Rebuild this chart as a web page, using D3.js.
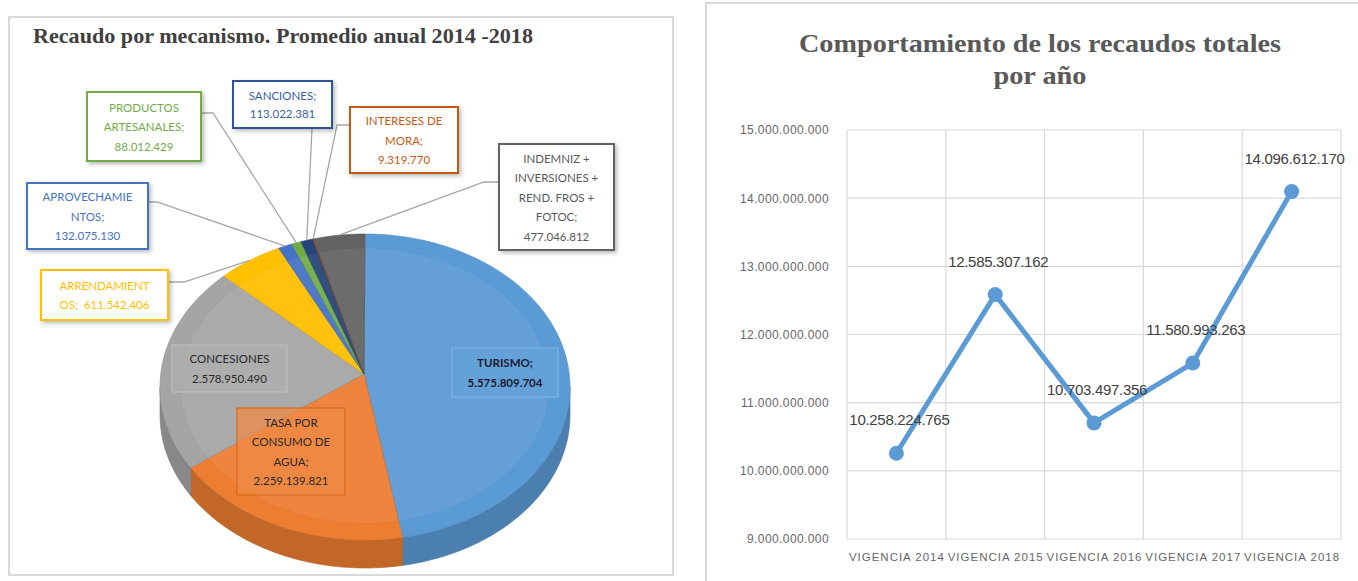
<!DOCTYPE html>
<html><head><meta charset="utf-8">
<script src="https://cdn.jsdelivr.net/npm/d3@7"></script>
<style>body{margin:0;background:#fff;} svg{display:block}</style>
</head><body>
<svg id="c" width="1358" height="581"></svg>
<script>
// ---------- DATA ----------
const mechanisms = ["TURISMO","TASA POR CONSUMO DE AGUA","CONCESIONES","ARRENDAMIENTOS","APROVECHAMIENTOS","PRODUCTOS ARTESANALES","SANCIONES","INTERESES DE MORA","INDEMNIZ + INVERSIONES + REND. FROS + FOTOC"];
const mechanismValues = [5575809704, 2259139821, 2578950490, 611542406, 132075130, 88012429, 113022381, 9319770, 477046812];
const mechanismNameLines = [["TURISMO;"],["TASA POR","CONSUMO DE","AGUA;"],["CONCESIONES"],["ARRENDAMIENT","OS;  "],["APROVECHAMIE","NTOS;"],["PRODUCTOS","ARTESANALES;"],["SANCIONES;"],["INTERESES DE","MORA;"],["INDEMNIZ +","INVERSIONES +","REND. FROS +","FOTOC;"]];
const sliceColors = ["#5B9BD5","#ED7D31","#A5A5A5","#FFC000","#4472C4","#70AD47","#264478","#9E480E","#636363"];

const years = ["VIGENCIA 2014","VIGENCIA 2015","VIGENCIA 2016","VIGENCIA 2017","VIGENCIA 2018"];
const totals = [10258224765, 12585307162, 10703497356, 11580993263, 14096612170];
const yTicks = [9e9, 10e9, 11e9, 12e9, 13e9, 14e9, 15e9];

const pieTitle = "Recaudo por mecanismo. Promedio anual 2014 -2018";
const lineTitle = ["Comportamiento de los recaudos totales", "por año"];

// ---------- SETUP ----------
const loc = d3.formatLocale({decimal: ",", thousands: ".", grouping: [3], currency: ["$", ""]});
const fmt = loc.format(",");
const svg = d3.select("#c");
const defs = svg.append("defs");
const sh = defs.append("filter").attr("id","sh").attr("x","-20%").attr("y","-20%").attr("width","150%").attr("height","150%");
sh.append("feDropShadow").attr("dx",2).attr("dy",2).attr("stdDeviation",2).attr("flood-color","#000").attr("flood-opacity",0.28);

// ---------- LEFT PANEL ----------
svg.append("rect").attr("x",9).attr("y",17).attr("width",664).attr("height",558)
  .attr("fill","#fff").attr("stroke","#d9d9d9").attr("stroke-width",2);
svg.append("text").attr("x",33).attr("y",43).text(pieTitle)
  .attr("font-family","'Liberation Serif','DejaVu Serif',serif").attr("font-weight","bold")
  .attr("font-size",21).attr("fill","#404040").attr("textLength",500).attr("lengthAdjust","spacingAndGlyphs");

const P = {cx: 365, cy: 387, rx: 205, ry: 153, ax: 364, ay: 374, depth: 28};
const rim = (t, dz = 0) => [P.cx + P.rx * Math.sin(t), P.cy - P.ry * Math.cos(t) + dz];
const arcPts = (a0, a1, dz = 0) => {
  const n = Math.max(2, Math.ceil((a1 - a0) / 0.02));
  return d3.range(n + 1).map(i => rim(a0 + (a1 - a0) * i / n, dz));
};
const arcs = d3.pie().sort(null).value(d => d)(mechanismValues);

const gPie = svg.append("g");
// sides (front half only)
arcs.forEach((a, i) => {
  const s0 = Math.max(a.startAngle, Math.PI / 2), s1 = Math.min(a.endAngle, 3 * Math.PI / 2);
  if (s1 <= s0) return;
  const top = arcPts(s0, s1), bot = arcPts(s0, s1, P.depth).reverse();
  gPie.append("path").attr("d", "M" + top.concat(bot).map(p => p.join(",")).join("L") + "Z")
    .attr("fill", d3.color(sliceColors[i]).darker(0.55)).attr("stroke", d3.color(sliceColors[i]).darker(0.8)).attr("stroke-width", 0.6);
});
// tops
arcs.forEach((a, i) => {
  const pts = [[P.ax, P.ay]].concat(arcPts(a.startAngle, a.endAngle));
  gPie.append("path").attr("d", "M" + pts.map(p => p.join(",")).join("L") + "Z")
    .attr("fill", sliceColors[i]).attr("stroke", d3.color(sliceColors[i]).darker(0.3)).attr("stroke-width", 0.6);
  // inner bevel
  const k = 0.9;
  const inner = pts.map(p => [P.ax + (p[0] - P.ax) * k, P.ay + (p[1] - P.ay) * k]);
  gPie.append("path").attr("d", "M" + inner.map(p => p.join(",")).join("L") + "Z")
    .attr("fill", "#fff").attr("fill-opacity", 0.06).attr("stroke", d3.color(sliceColors[i]).darker(0.4)).attr("stroke-opacity", 0.3).attr("stroke-width", 0.8);
});

// label layout (positions only)
const labelBoxes = [
  {x:452, y:348, w:106, h:49, fill:"#64a2da", stroke:"#7fb2e0", text:"#1a1a2e", bold:true},
  {x:237, y:408, w:108, h:87, fill:"#ef8a45", stroke:"#d86a1c", text:"#2a2a2a"},
  {x:172, y:345, w:115, h:47, fill:"#afafaf", stroke:"#bdbdbd", text:"#2a2a2a"},
  {x:41,  y:270, w:127, h:50, fill:"#fff", stroke:"#FFC000", text:"#FFC000", lead:[168,282,184], shadow:true},
  {x:27,  y:183, w:121, h:66, fill:"#fff", stroke:"#4472C4", text:"#4472C4", lead:[148,202,157], shadow:true},
  {x:87,  y:92,  w:114, h:69, fill:"#fff", stroke:"#70AD47", text:"#70AD47", lead:[201,113,213], shadow:true},
  {x:233, y:81,  w:99,  h:47, fill:"#fff", stroke:"#2F5597", text:"#3a62a3", lead:[312,128,312], shadow:true},
  {x:350, y:107, w:108, h:66, fill:"#fff", stroke:"#C55A11", text:"#C55A11", lead:[350,125,337], shadow:true},
  {x:499, y:144, w:115, h:106, fill:"#fff", stroke:"#636363", text:"#595959", lead:[499,182,484], shadow:true}
];
const gLab = svg.append("g");
arcs.forEach((a, i) => {
  const L = labelBoxes[i];
  if (L.lead) {
    const mid = (a.startAngle + a.endAngle) / 2;
    const e = rim(mid);
    gLab.append("path").attr("d", `M${L.lead[0]},${L.lead[1]}L${L.lead[2]},${L.lead[1]}L${e[0]},${e[1]}`)
      .attr("fill","none").attr("stroke","#a6a6a6").attr("stroke-width",1.3);
  }
});
arcs.forEach((a, i) => {
  const L = labelBoxes[i];
  const g = gLab.append("g");
  g.append("rect").attr("x",L.x).attr("y",L.y).attr("width",L.w).attr("height",L.h)
    .attr("fill",L.fill).attr("fill-opacity", L.shadow ? 1 : 0.75)
    .attr("stroke",L.stroke).attr("stroke-width",L.shadow ? 2 : 1.2)
    .attr("filter", L.shadow ? "url(#sh)" : null);
  const names = mechanismNameLines[i].slice();
  let lines;
  if (i === 3) { lines = [names[0], names[1] + fmt(a.data)]; }
  else lines = names.concat([fmt(a.data)]);
  const lh = i === 6 ? 18 : 19.5;
  const cy = L.y + L.h / 2;
  lines.forEach((t, j) => {
    g.append("text").attr("x", L.x + L.w / 2).attr("y", cy + (j - (lines.length - 1) / 2) * lh)
      .attr("text-anchor","middle").attr("dominant-baseline","central")
      .attr("font-family","Lato,'Open Sans',sans-serif").attr("font-size",11.5)
      .attr("font-weight", L.bold ? "bold" : "normal")
      .attr("fill", L.text).attr("xml:space","preserve").style("white-space","pre").text(t);
  });
});

// ---------- RIGHT PANEL ----------
svg.append("rect").attr("x",706).attr("y",3).attr("width",700).attr("height",640)
  .attr("fill","#fff").attr("stroke","#d9d9d9").attr("stroke-width",2);
lineTitle.forEach((t, j) => {
  svg.append("text").attr("x",1040).attr("y", j === 0 ? 52 : 84).attr("text-anchor","middle")
    .attr("font-family","'Liberation Serif','DejaVu Serif',serif").attr("font-weight","bold")
    .attr("font-size",26).attr("fill","#595959")
    .attr("textLength", j === 0 ? 482 : 93).attr("lengthAdjust","spacingAndGlyphs").text(t);
});

const x = d3.scaleBand().domain(years).range([847, 1341]);
const y = d3.scaleLinear().domain([9e9, 15e9]).range([539, 130]);
const gChart = svg.append("g");
// horizontal grid
gChart.selectAll(".hg").data(yTicks).join("line")
  .attr("x1", 847).attr("x2", 1341).attr("y1", d => y(d)).attr("y2", d => y(d))
  .attr("stroke","#d9d9d9").attr("stroke-width",1.2);
// vertical grid at band boundaries
const vb = years.map(d => x(d)).concat([x.range()[1]]);
gChart.selectAll(".vg").data(vb).join("line")
  .attr("x1", d => d).attr("x2", d => d).attr("y1", y(15e9)).attr("y2", y(9e9))
  .attr("stroke","#d9d9d9").attr("stroke-width",1.2);
// y axis labels
const yAx = gChart.append("g").attr("transform","translate(829,0)")
  .call(d3.axisLeft(y).tickValues(yTicks).tickFormat(fmt).tickSize(0).tickPadding(0));
yAx.select(".domain").remove();
yAx.selectAll("text").attr("font-family","'Liberation Sans',Arial,sans-serif").attr("font-size",12)
  .attr("letter-spacing","0.4px").attr("fill","#666");
// x labels
const xAx = gChart.append("g").attr("transform","translate(0,539)")
  .call(d3.axisBottom(x).tickSize(0).tickPadding(14));
xAx.select(".domain").remove();
xAx.selectAll("text").attr("font-family","'Liberation Sans',Arial,sans-serif").attr("font-size",11.5)
  .attr("fill","#666").attr("textLength",95).attr("lengthAdjust","spacing");

// line
const pts = years.map((yr, i) => [x(yr) + x.bandwidth() / 2, y(totals[i])]);
gChart.append("path").attr("d", d3.line()(pts)).attr("fill","none")
  .attr("stroke","#5B9BD5").attr("stroke-width",5).attr("stroke-linejoin","round").attr("stroke-linecap","round");
gChart.selectAll(".pt").data(pts).join("circle").attr("cx", d => d[0]).attr("cy", d => d[1]).attr("r", 7.5)
  .attr("fill","#5B9BD5");
gChart.selectAll(".dl").data(pts).join("text").attr("x", d => d[0] + 3).attr("y", d => d[1] - 28)
  .attr("text-anchor","middle").attr("font-family","'Liberation Sans',Arial,sans-serif").attr("font-size",15)
  .attr("letter-spacing","-0.3px").attr("fill","#404040").text((d, i) => fmt(totals[i]));
</script>
</body></html>
